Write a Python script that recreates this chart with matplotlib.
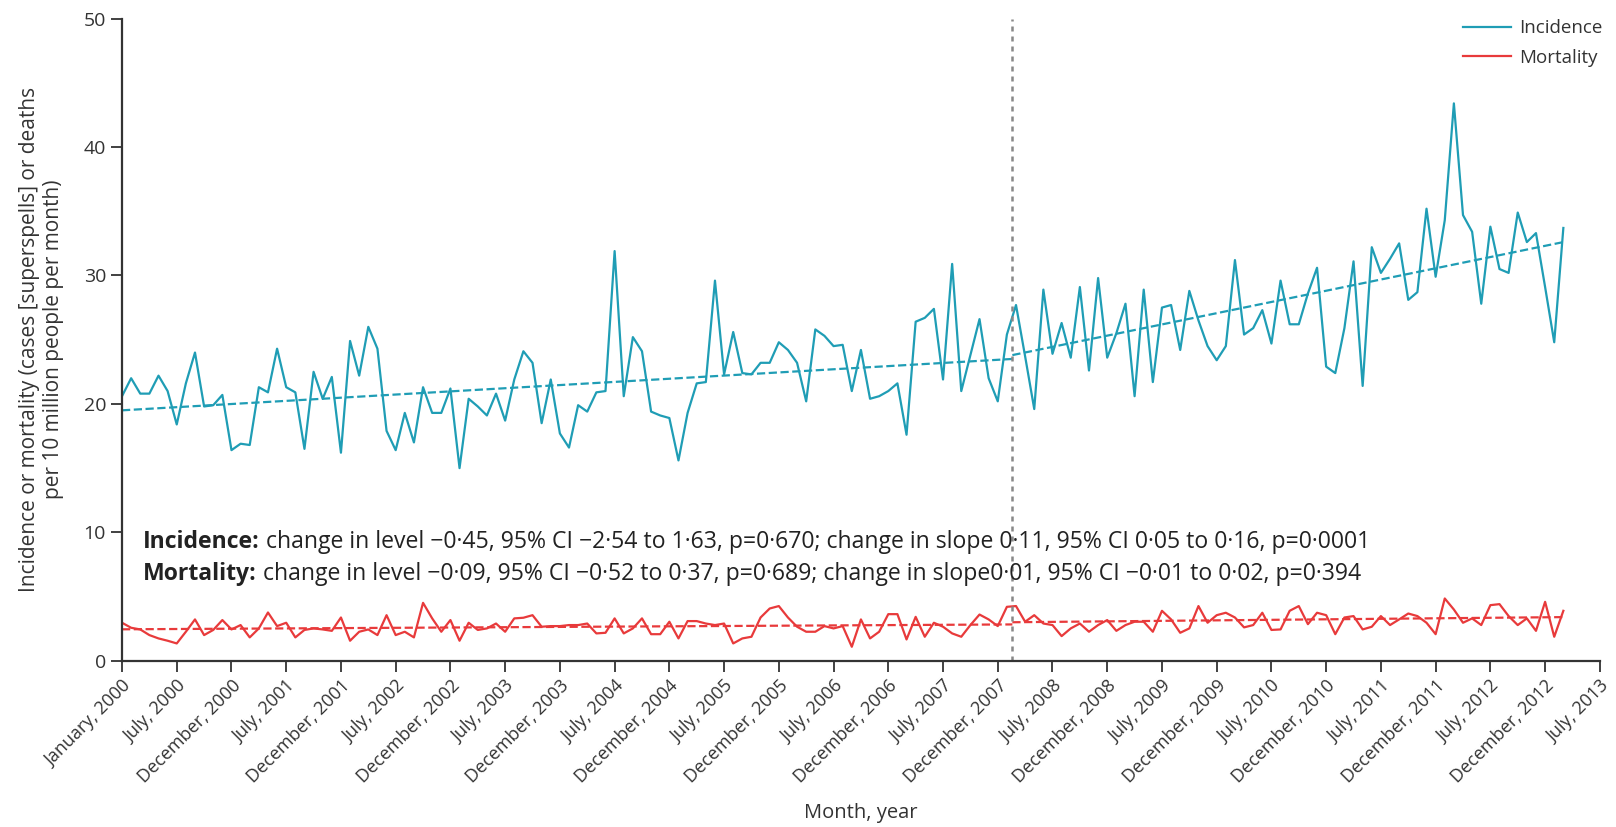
import matplotlib
matplotlib.use('Agg')
import numpy as np
import matplotlib.pyplot as plt

plt.rcParams['font.family'] = ['Open Sans', 'DejaVu Sans']

# Monthly values, January 2000 onwards (one value per month)
incidence = [20.6, 22.0, 20.8, 20.8, 22.2, 21.0, 18.4, 21.6, 24.0, 19.8,
             19.9, 20.7, 16.4, 16.9, 16.8, 21.3, 20.9, 24.3, 21.3, 20.9,
             16.5, 22.5, 20.4, 22.1, 16.2, 24.9, 22.2, 26.0, 24.3, 17.9,
             16.4, 19.3, 17.0, 21.3, 19.3, 19.3, 21.2, 15.0, 20.4, 19.8,
             19.1, 20.8, 18.7, 21.9, 24.1, 23.2, 18.5, 21.9, 17.7, 16.6,
             19.9, 19.4, 20.9, 21.0, 31.9, 20.6, 25.2, 24.1, 19.4, 19.1,
             18.9, 15.6, 19.3, 21.6, 21.7, 29.6, 22.3, 25.6, 22.4, 22.3,
             23.2, 23.2, 24.8, 24.2, 23.2, 20.2, 25.8, 25.3, 24.5, 24.6,
             21.0, 24.2, 20.4, 20.6, 21.0, 21.6, 17.6, 26.4, 26.7, 27.4,
             21.9, 30.9, 21.0, 23.8, 26.6, 22.0, 20.2, 25.4, 27.7, 23.7,
             19.6, 28.9, 23.9, 26.3, 23.6, 29.1, 22.6, 29.8, 23.6, 25.5,
             27.8, 20.6, 28.9, 21.7, 27.5, 27.7, 24.2, 28.8, 26.5, 24.5,
             23.4, 24.5, 31.2, 25.4, 25.9, 27.3, 24.7, 29.6, 26.2, 26.2,
             28.6, 30.6, 22.9, 22.4, 25.9, 31.1, 21.4, 32.2, 30.2, 31.3,
             32.5, 28.1, 28.7, 35.2, 29.9, 34.3, 43.4, 34.7, 33.4, 27.8,
             33.8, 30.5, 30.2, 34.9, 32.6, 33.3, 29.1, 24.8, 33.7]

mortality = [2.96, 2.57, 2.44, 2.00, 1.74, 1.56, 1.35, 2.26, 3.22, 2.00,
             2.40, 3.17, 2.44, 2.78, 1.82, 2.52, 3.76, 2.70, 2.96, 1.82,
             2.40, 2.52, 2.44, 2.33, 3.37, 1.56, 2.26, 2.44, 2.00, 3.55,
             2.00, 2.26, 1.82, 4.51, 3.30, 2.26, 3.17, 1.56, 2.96, 2.40,
             2.52, 2.90, 2.26, 3.30, 3.35, 3.55, 2.65, 2.70, 2.70, 2.78,
             2.78, 2.90, 2.13, 2.18, 3.30, 2.13, 2.52, 3.30, 2.07, 2.07,
             3.04, 1.74, 3.09, 3.09, 2.90, 2.78, 2.90, 1.35, 1.74, 1.87,
             3.37, 4.07, 4.26, 3.37, 2.65, 2.26, 2.26, 2.70, 2.52, 2.70,
             1.09, 3.22, 1.74, 2.26, 3.63, 3.63, 1.66, 3.42, 1.87, 2.96,
             2.65, 2.13, 1.87, 2.78, 3.60, 3.22, 2.70, 4.20, 4.26, 3.04,
             3.55, 2.90, 2.78, 1.92, 2.52, 2.90, 2.26, 2.78, 3.17, 2.33,
             2.78, 3.04, 3.04, 2.26, 3.89, 3.22, 2.18, 2.52, 4.26, 2.96,
             3.55, 3.74, 3.37, 2.60, 2.78, 3.74, 2.40, 2.44, 3.89, 4.26,
             2.85, 3.74, 3.55, 2.07, 3.37, 3.48, 2.44, 2.65, 3.48, 2.78,
             3.22, 3.68, 3.48, 2.96, 2.07, 4.85, 3.99, 2.96, 3.30, 2.78,
             4.33, 4.41, 3.48, 2.78, 3.30, 2.33, 4.59, 1.87, 3.89]

# Fitted segmented trends (start, end) before and after the intervention
intervention_month = 97.6
inc_trend_pre = [19.5, 23.5]
inc_trend_post = [23.8, 32.6]
mort_trend_pre = [2.45, 2.83]
mort_trend_post = [3.0, 3.4]

# tick labels: Jan 2000, then July / December of every year, up to July 2013
tick_labels = ['January, 2000']
for yr in range(2000, 2013):
    tick_labels += ['July, %d' % yr, 'December, %d' % yr]
tick_labels.append('July, 2013')

months = np.arange(len(incidence))
last = months[-1]

inc_color = '#1f9db5'
mort_color = '#e83a3b'
txt_color = '#333333'

fig = plt.figure(figsize=(16.16, 8.27), dpi=100)
ax = fig.add_axes([0.0755, 0.201, 0.9145, 0.7765])

ax.plot(months, incidence, color=inc_color, lw=1.6, label='Incidence')
ax.plot(months, mortality, color=mort_color, lw=1.6, label='Mortality')

# trend lines
ax.plot([0, intervention_month], inc_trend_pre, '--', color=inc_color, lw=1.6)
ax.plot([intervention_month, last], inc_trend_post, '--', color=inc_color, lw=1.6)
ax.plot([0, intervention_month], mort_trend_pre, '--', color=mort_color, lw=1.6)
ax.plot([intervention_month, last], mort_trend_post, '--', color=mort_color, lw=1.6)

ax.axvline(intervention_month, color='#888888', ls=(0, (2, 2)), lw=1.8)

ax.set_xlim(0, 162)
ax.set_ylim(0, 50)
ax.set_xticks(np.arange(0, 163, 6))
ax.set_xticklabels(tick_labels, rotation=45, ha='right', rotation_mode='anchor',
                   fontsize=13, color=txt_color)
ax.set_yticks(np.arange(0, 51, 10))
ax.tick_params(axis='y', labelsize=14, colors=txt_color, length=8, width=1.3)
ax.tick_params(axis='x', length=8, width=1.3, colors=txt_color)
for s in ['top', 'right']:
    ax.spines[s].set_visible(False)
for s in ['left', 'bottom']:
    ax.spines[s].set_linewidth(1.6)
    ax.spines[s].set_color(txt_color)

ax.set_xlabel('Month, year', fontsize=14.5, color=txt_color, labelpad=12)
ax.set_ylabel('Incidence or mortality (cases [superspells] or deaths\nper 10 million people per month)',
              fontsize=15, color=txt_color, labelpad=14)

# annotations
fs = 16.6
t1 = ax.text(2.3, 8.8, 'Incidence:', fontsize=fs, fontweight='bold', color='#222222')
ax.annotate(' change in level \u22120\u00b745, 95% CI \u22122\u00b754 to 1\u00b763, p=0\u00b7670; '
            'change in slope 0\u00b711, 95% CI 0\u00b705 to 0\u00b716, p=0\u00b70001',
            xy=(1, 0), xycoords=t1, va='bottom', fontsize=fs, color='#222222')
t2 = ax.text(2.3, 6.3, 'Mortality:', fontsize=fs, fontweight='bold', color='#222222')
ax.annotate(' change in level \u22120\u00b709, 95% CI \u22120\u00b752 to 0\u00b737, p=0\u00b7689; '
            'change in slope0\u00b701, 95% CI \u22120\u00b701 to 0\u00b702, p=0\u00b7394',
            xy=(1, 0), xycoords=t2, va='bottom', fontsize=fs, color='#222222')

ax.legend(loc='upper right', bbox_to_anchor=(1.013, 1.025), frameon=False, fontsize=13.5,
          handlelength=2.6, handletextpad=0.4, labelspacing=0.6, labelcolor=txt_color)

fig.savefig('out.png', dpi=100)
